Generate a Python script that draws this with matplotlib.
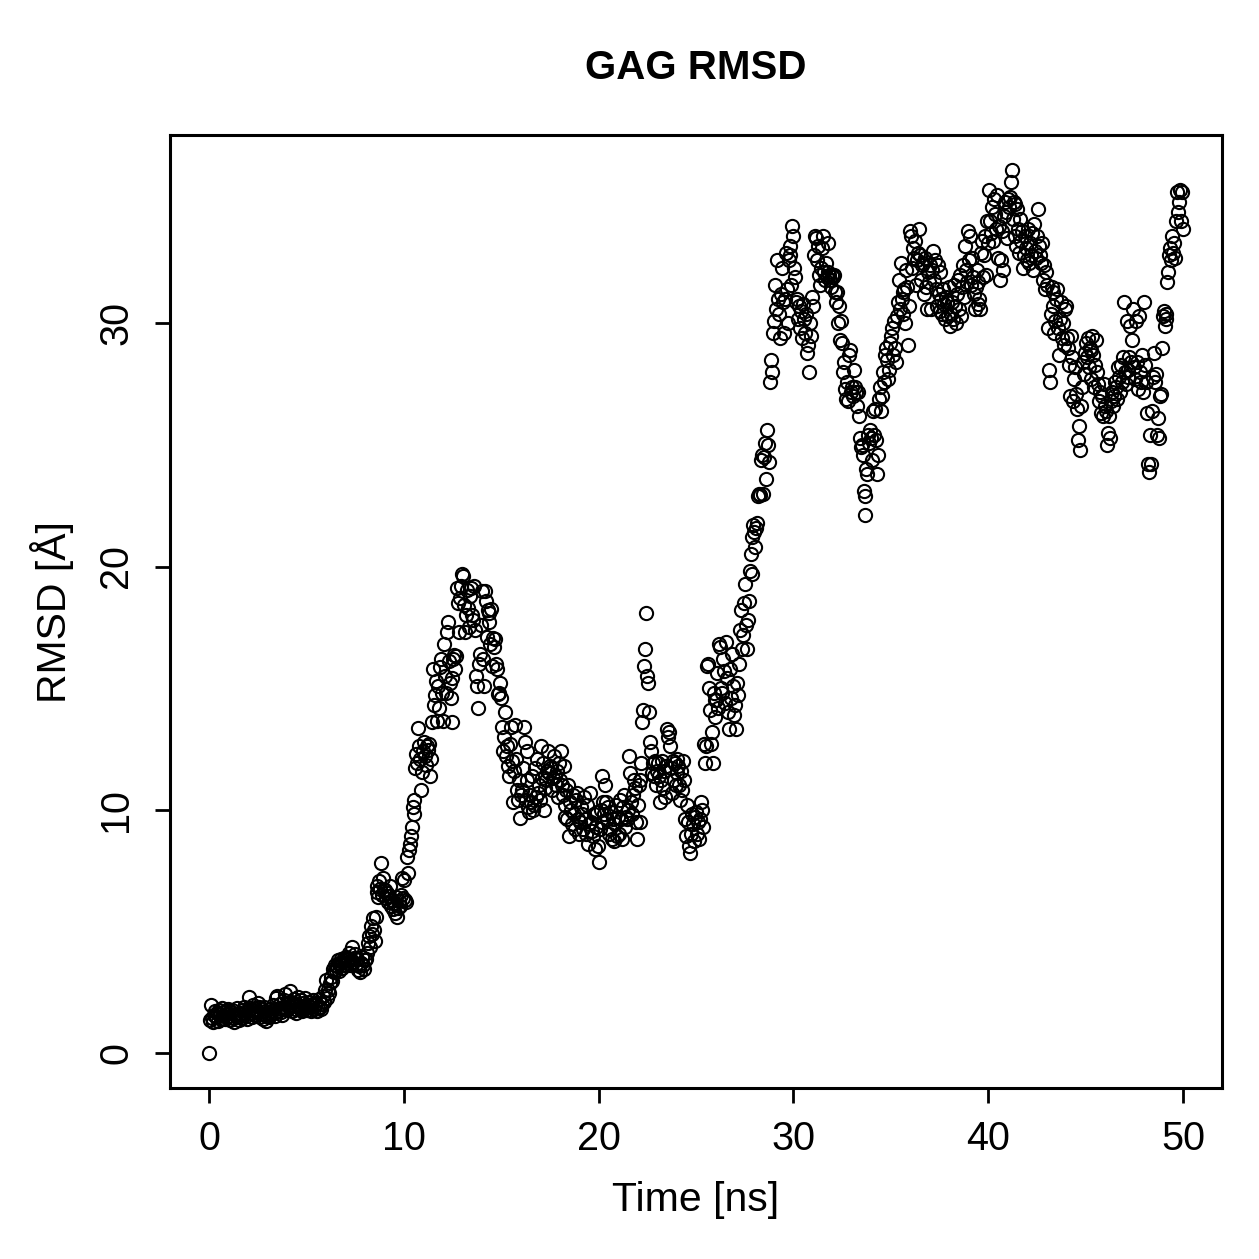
import numpy as np
import matplotlib.pyplot as plt

# RMSD trajectory, one value every 50 ps (one row per ns after the first frame)
rmsd = [
    0.00,
    1.35, 1.98, 1.42, 1.25, 1.55, 1.70, 1.48, 1.62, 1.30, 1.75, 1.58, 1.40, 1.85, 1.66, 1.50, 1.38, 1.72, 1.60, 1.45, 1.80,
    1.52, 1.35, 1.68, 1.74, 1.42, 1.28, 1.60, 1.55, 1.82, 1.47, 1.36, 1.65, 1.58, 1.44, 1.76, 1.90, 1.62, 1.50, 1.40, 1.70,
    2.30, 1.85, 1.62, 1.48, 1.95, 1.72, 1.55, 1.80, 1.66, 2.05, 1.90, 1.45, 1.60, 1.78, 1.38, 1.55, 1.88, 1.70, 1.30, 1.52,
    1.65, 1.48, 1.80, 1.58, 1.72, 1.95, 1.62, 1.50, 2.25, 2.35, 1.70, 1.85, 2.00, 1.68, 1.55, 1.90, 2.15, 2.40, 1.82, 1.75,
    2.05, 1.88, 2.55, 2.10, 1.72, 1.95, 2.20, 1.80, 1.65, 2.00, 2.30, 1.92, 1.78, 2.15, 1.85, 1.70, 2.05, 1.90, 2.25, 1.82,
    1.75, 1.95, 2.10, 1.88, 1.70, 2.00, 2.15, 1.80, 1.95, 2.05, 1.72, 1.85, 2.20, 1.90, 1.78, 2.00, 2.35, 2.10, 2.60, 3.00,
    2.25, 2.60, 2.45, 2.85, 3.10, 2.95, 3.45, 3.30, 3.60, 3.40, 3.55, 3.80, 3.65, 3.35, 3.70, 3.85, 3.50, 3.75, 3.90, 3.60,
    3.95, 3.70, 3.85, 4.10, 3.60, 3.80, 4.35, 3.75, 3.90, 4.05, 3.65, 3.85, 3.40, 3.55, 3.30, 3.70, 3.95, 3.60, 3.45, 3.80,
    3.85, 4.10, 4.50, 4.80, 4.35, 5.20, 4.90, 5.55, 5.05, 4.60, 5.60, 6.60, 6.85, 6.40, 7.05, 6.75, 7.80, 6.50, 7.20, 6.70,
    6.70, 6.35, 6.55, 6.20, 6.45, 6.85, 6.05, 6.30, 5.90, 6.15, 5.75, 6.40, 5.60, 5.95, 6.25, 6.05, 6.50, 7.20, 6.35, 7.10,
    6.30, 6.20, 8.05, 7.40, 8.35, 8.60, 8.90, 9.30, 10.10, 10.40, 9.80, 11.70, 12.30, 11.90, 13.35, 12.60, 12.10, 10.80, 11.55, 12.40,
    12.80, 12.20, 11.85, 12.60, 12.45, 12.70, 11.40, 12.10, 13.60, 15.80, 14.30, 14.70, 15.30, 13.65, 15.10, 14.20, 15.85, 16.20, 14.80, 13.65,
    16.80, 15.50, 14.80, 17.30, 17.70, 16.10, 15.20, 14.60, 13.60, 15.40, 16.20, 16.35, 15.80, 16.30, 19.10, 18.50, 17.30, 18.70, 19.20, 19.70,
    19.60, 18.40, 17.30, 18.00, 19.05, 18.30, 17.50, 18.80, 19.10, 18.00, 17.80, 19.20, 17.40, 15.50, 15.10, 14.20, 16.00, 16.40, 17.60, 19.00,
    16.20, 15.10, 19.00, 18.60, 17.10, 18.20, 18.10, 17.70, 16.80, 18.25, 15.90, 17.05, 16.70, 17.00, 16.00, 15.80, 14.75, 14.80, 15.20, 14.60,
    13.40, 12.40, 13.00, 14.00, 12.20, 12.60, 11.80, 11.40, 12.70, 13.40, 12.00, 10.30, 11.60, 13.50, 12.10, 10.80, 10.40, 11.20, 9.65, 10.60,
    10.80, 11.70, 13.40, 12.80, 10.40, 12.40, 11.20, 10.10, 9.90, 10.60, 10.30, 11.40, 10.00, 10.20, 11.70, 10.50, 12.10, 10.70, 11.00, 10.40,
    12.60, 11.30, 11.90, 10.00, 10.90, 11.20, 11.60, 12.40, 11.50, 11.80, 11.70, 10.80, 11.30, 12.20, 11.40, 11.00, 11.60, 10.50, 11.90, 11.20,
    12.40, 11.00, 10.60, 11.80, 10.20, 9.70, 10.80, 9.60, 11.00, 8.90, 10.30, 10.00, 9.40, 10.60, 9.80, 9.20, 10.40, 10.70, 9.60, 9.00,
    9.50, 10.10, 9.80, 9.20, 10.50, 9.60, 9.00, 10.20, 8.60, 9.40, 10.70, 9.50, 9.10, 8.90, 9.80, 8.40, 9.30, 9.90, 8.50, 7.85,
    9.20, 10.00, 9.50, 11.40, 10.30, 9.80, 11.00, 10.30, 9.60, 10.10, 9.00, 9.20, 9.90, 8.80, 9.60, 8.70, 9.40, 10.20, 8.90, 9.70,
    9.00, 10.40, 9.60, 8.80, 10.10, 10.60, 9.30, 9.70, 9.60, 10.00, 12.20, 11.50, 10.30, 9.80, 10.60, 11.20, 10.90, 9.50, 8.80, 10.20,
    11.00, 9.50, 11.20, 11.90, 13.60, 14.10, 15.90, 16.60, 18.10, 15.50, 15.20, 14.00, 12.80, 12.40, 11.50, 11.90, 11.40, 12.00, 11.00, 11.60,
    11.90, 11.40, 10.30, 11.20, 12.00, 10.90, 11.60, 10.50, 11.80, 13.30, 13.00, 13.20, 12.60, 11.70, 10.70, 12.00, 11.20, 11.90, 11.00, 12.10,
    11.50, 11.80, 11.00, 10.40, 11.60, 10.80, 12.00, 11.20, 9.60, 8.90, 10.20, 9.50, 8.50, 8.20, 9.00, 9.80, 9.40, 8.70, 9.70, 9.90,
    9.00, 9.50, 8.80, 9.60, 10.30, 10.00, 9.30, 12.70, 11.90, 12.60, 15.90, 16.00, 15.00, 14.10, 12.70, 13.20, 11.90, 14.80, 14.50, 13.80,
    14.50, 15.60, 14.20, 16.80, 16.70, 15.00, 14.80, 16.20, 15.70, 14.40, 16.90, 15.40, 14.00, 13.30, 15.80, 14.60, 16.40, 15.10, 13.90, 14.30,
    13.30, 15.20, 14.70, 16.00, 17.40, 18.20, 16.60, 17.20, 18.50, 19.30, 17.60, 16.60, 17.80, 18.60, 19.80, 20.50, 19.70, 21.20, 21.70, 21.40,
    20.80, 21.60, 21.80, 22.90, 23.00, 22.95, 24.40, 24.60, 23.00, 24.50, 25.10, 23.60, 25.60, 25.00, 24.30, 27.60, 28.50, 28.00, 29.60, 30.10,
    31.60, 30.60, 32.60, 31.00, 30.40, 29.40, 31.20, 32.30, 30.90, 29.60, 31.00, 32.90, 31.40, 30.00, 32.60, 33.20, 32.80, 31.60, 34.00, 33.60,
    32.30, 31.90, 30.90, 31.00, 30.20, 30.70, 29.80, 30.50, 29.40, 30.80, 30.20, 29.60, 30.40, 28.80, 29.10, 28.00, 30.00, 29.50, 31.10, 30.70,
    32.80, 33.60, 33.50, 32.60, 33.20, 32.00, 31.60, 32.30, 33.10, 33.60, 32.10, 31.80, 32.50, 31.90, 33.30, 32.10, 32.00, 31.80, 31.50, 32.00,
    31.90, 32.00, 31.30, 30.90, 31.30, 30.00, 30.70, 29.30, 30.10, 29.20, 28.00, 28.40, 27.30, 26.90, 27.60, 26.80, 28.70, 28.90, 27.20, 27.40,
    27.00, 28.10, 27.40, 27.20, 26.60, 27.20, 26.20, 25.30, 24.90, 25.00, 24.60, 23.10, 22.90, 22.10, 24.00, 23.80, 25.40, 25.10, 25.60, 25.30,
    24.40, 26.40, 25.40, 26.50, 25.20, 23.80, 24.60, 26.90, 27.40, 26.40, 27.00, 28.00, 27.60, 28.70, 29.00, 28.50, 27.70, 28.10, 29.20, 29.50,
    29.80, 28.70, 30.10, 29.00, 28.40, 30.30, 30.90, 31.80, 30.60, 32.50, 31.00, 31.30, 30.40, 31.40, 30.00, 32.20, 31.50, 29.10, 30.70, 33.80,
    33.60, 32.30, 33.10, 32.70, 33.40, 31.60, 32.60, 32.90, 33.90, 32.80, 31.80, 32.40, 32.50, 31.20, 32.70, 31.50, 30.60, 32.10, 31.70, 32.40,
    30.60, 32.20, 33.00, 31.80, 32.60, 31.40, 30.70, 32.40, 31.20, 30.50, 32.10, 31.00, 30.40, 31.40, 30.80, 30.20, 31.10, 30.90, 30.30, 31.50,
    29.90, 30.40, 30.90, 30.20, 31.60, 30.70, 30.00, 31.20, 31.80, 30.60, 32.00, 30.30, 31.50, 32.40, 31.10, 33.20, 32.20, 31.70, 33.80, 32.60,
    33.60, 31.60, 32.70, 31.90, 31.20, 30.60, 31.50, 32.20, 30.80, 31.70, 31.00, 30.60, 32.90, 33.40, 31.90, 32.80, 33.60, 32.00, 34.20, 33.30,
    35.50, 34.20, 33.70, 34.80, 33.40, 35.10, 34.50, 33.90, 35.30, 32.70, 34.00, 31.80, 32.60, 33.80, 32.20, 34.40, 35.00, 34.60, 33.50, 35.10,
    34.80, 35.20, 35.80, 36.30, 34.30, 35.00, 33.60, 34.90, 33.20, 34.70, 33.90, 32.90, 34.30, 33.40, 33.80, 32.30, 32.80, 33.60, 33.10, 32.60,
    33.90, 32.50, 33.30, 32.80, 33.70, 32.20, 34.10, 33.00, 32.70, 33.60, 34.70, 33.20, 32.80, 32.50, 33.30, 31.80, 32.40, 31.40, 32.10, 31.60,
    29.80, 28.10, 27.60, 30.40, 31.50, 30.70, 31.30, 29.60, 30.10, 31.00, 31.40, 29.80, 28.70, 30.20, 30.90, 29.40, 30.00, 29.10, 30.60, 30.70,
    29.40, 29.00, 28.30, 27.00, 29.50, 28.60, 26.80, 27.70, 28.20, 27.10, 26.50, 25.20, 25.80, 24.80, 26.60, 27.40, 28.40, 27.90, 28.80, 29.20,
    28.60, 29.40, 28.20, 29.00, 28.90, 27.70, 29.50, 28.70, 27.40, 28.30, 29.30, 28.00, 27.50, 26.80, 27.20, 26.30, 27.00, 26.20, 27.50, 26.60,
    26.40, 25.00, 25.50, 26.20, 25.30, 26.80, 27.20, 26.60, 27.00, 27.60, 27.40, 26.90, 28.20, 27.80, 27.20, 28.30, 27.60, 28.60, 30.90, 28.00,
    27.50, 30.10, 28.10, 27.80, 28.60, 29.90, 28.40, 29.30, 30.60, 28.20, 27.70, 30.10, 28.40, 27.30, 30.30, 28.00, 27.60, 28.70, 27.20, 30.90,
    28.30, 27.60, 26.30, 24.20, 23.90, 25.40, 24.20, 26.40, 27.80, 28.80, 27.60, 27.90, 25.40, 26.10, 25.30, 27.00, 27.10, 29.00, 30.30, 30.50,
    29.90, 30.20, 30.40, 31.70, 32.10, 32.80, 33.10, 32.60, 33.60, 32.90, 33.30, 32.70, 34.20, 35.40, 34.60, 35.00, 35.50, 34.20, 35.40, 33.90,
]
time_ns = np.arange(len(rmsd)) * 0.05

xticks = [0, 10, 20, 30, 40, 50]
yticks = [0, 10, 20, 30]

plt.rcParams['font.family'] = ['Liberation Sans', 'DejaVu Sans']

W = 1259
fig = plt.figure(figsize=(W / 100, W / 100), dpi=100)
ax = fig.add_axes([170 / W, 1 - 1088 / W, (1222 - 170) / W, (1088 - 135) / W])

ax.plot(time_ns, rmsd, 'o', mfc='none', mec='black', ms=9.5, mew=1.5)

# R style 4% padding around the data range
x0, x1 = time_ns.min(), time_ns.max()
y0, y1 = min(rmsd), max(rmsd)
ax.set_xlim(x0 - 0.04 * (x1 - x0), x1 + 0.04 * (x1 - x0))
ax.set_ylim(y0 - 0.04 * (y1 - y0), y1 + 0.04 * (y1 - y0))

ax.set_xticks(xticks)
ax.set_yticks(yticks)
for s in ax.spines.values():
    s.set_linewidth(2.2)
ax.tick_params(direction='out', length=11, width=2.0, labelsize=28.5, pad=12)
ax.tick_params(axis='y', labelrotation=90, pad=14)
for lab in ax.get_yticklabels():
    lab.set_va('center')

# titles centred on the plot region, as R does
cx = (170 + 1222) / 2 / W
fig.text(cx, 1 - 68 / W, 'GAG RMSD', ha='center', va='center',
         fontsize=29, fontweight='bold')
fig.text(cx, 1 - 1200 / W, 'Time [ns]', ha='center', va='center', fontsize=29.5)
fig.text(52 / W, 1 - 612 / W, 'RMSD [Å]', ha='center', va='center',
         rotation=90, fontsize=29.5)

fig.savefig('out.png', dpi=100)
